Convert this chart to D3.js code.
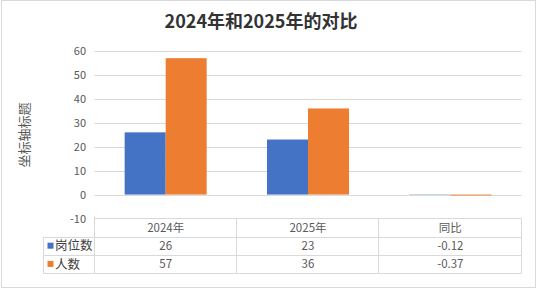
<!DOCTYPE html>
<html>
<head>
<meta charset="utf-8">
<script src="https://cdn.jsdelivr.net/npm/d3@7"></script>
<style>
	body { margin: 0; background: #fff; }
	text { font-family: "Noto Sans CJK SC", "Noto Sans", sans-serif; }
</style>
</head>
<body>
<div id="chart"></div>
<script>
// data
const categories = ["2024年", "2025年", "同比"];
const seriesNames = ["岗位数", "人数"];
const jobs = [26, 23, -0.12];
const people = [57, 36, -0.37];
const yTicks = [-10, 0, 10, 20, 30, 40, 50, 60];
const colors = ["#4472c4", "#ed7d31"];

const width = 537, height = 289;
const plot = {left: 94.5, right: 521.5, top: 51, bottom: 218.5};
const rowH = 18.2;

const svg = d3.select("#chart").append("svg")
	.attr("width", width)
	.attr("height", height);

// chart border
svg.append("rect")
	.attr("x", 1.5).attr("y", 0.5)
	.attr("width", 534).attr("height", 287)
	.attr("fill", "#fff")
	.attr("stroke", "#d9d9d9");

svg.append("text")
	.attr("x", 261).attr("y", 28)
	.attr("text-anchor", "middle")
	.attr("font-size", 18)
	.attr("font-weight", "bold")
	.attr("fill", "#333")
	.text("2024年和2025年的对比");

const x = d3.scaleBand().domain(categories).range([plot.left, plot.right]);
const bw = x.bandwidth();
const x1 = d3.scaleBand().domain(seriesNames).range([bw / 2 - 41, bw / 2 + 41]);
const y = d3.scaleLinear().domain([-10, 60]).range([plot.bottom, plot.top]);

// gridlines
svg.append("g").selectAll("line")
	.data(yTicks.filter(d => d > -10))
	.join("line")
	.attr("x1", plot.left).attr("x2", plot.right)
	.attr("y1", d => Math.round(y(d)) + 0.5)
	.attr("y2", d => Math.round(y(d)) + 0.5)
	.attr("stroke", "#d9d9d9");

// tick labels
svg.append("g").selectAll("text")
	.data(yTicks)
	.join("text")
	.attr("x", 86)
	.attr("y", d => y(d) + 4)
	.attr("text-anchor", "end")
	.attr("font-size", 11)
	.attr("fill", "#595959")
	.text(d => d);

svg.append("text")
	.attr("transform", "translate(29,135) rotate(-90)")
	.attr("text-anchor", "middle")
	.attr("font-size", 13)
	.attr("fill", "#595959")
	.text("坐标轴标题");

// bars
const series = [jobs, people];
series.forEach((vals, si) => {
	svg.append("g").selectAll("rect")
		.data(vals)
		.join("rect")
		.attr("x", (d, i) => x(categories[i]) + x1(seriesNames[si]))
		.attr("width", x1.bandwidth())
		.attr("y", d => y(Math.max(0, d)))
		.attr("height", d => Math.abs(y(d) - y(0)))
		.attr("fill", colors[si]);
});

// data table
const t = svg.append("g").attr("stroke", "#d9d9d9").attr("fill", "none");
const tTop = plot.bottom, tBot = plot.bottom + rowH * 3;
t.append("line").attr("x1", plot.left).attr("x2", plot.right).attr("y1", tTop).attr("y2", tTop);
[1, 2, 3].forEach(r => {
	t.append("line").attr("x1", 43).attr("x2", plot.right)
		.attr("y1", Math.round(tTop + rowH * r) + 0.5).attr("y2", Math.round(tTop + rowH * r) + 0.5);
});
t.append("line").attr("x1", 43.5).attr("x2", 43.5).attr("y1", tTop + rowH).attr("y2", tBot);
categories.concat([null]).forEach((c, i) => {
	const xx = Math.round(plot.left + bw * i) - 0.5;
	t.append("line").attr("x1", xx).attr("x2", xx)
		.attr("y1", i == 0 ? tTop - 2 : tTop).attr("y2", tBot);
});

svg.append("g").selectAll("text")
	.data(categories)
	.join("text")
	.attr("x", d => x(d) + bw / 2)
	.attr("y", tTop + rowH / 2 + 4)
	.attr("text-anchor", "middle")
	.attr("font-size", 11.5)
	.attr("fill", "#595959")
	.text(d => d);

series.forEach((vals, si) => {
	const rowY = tTop + rowH * (si + 1);
	svg.append("rect")
		.attr("x", 47.5).attr("y", rowY + 6)
		.attr("width", 6).attr("height", 6)
		.attr("fill", colors[si]);
	svg.append("text")
		.attr("x", 55).attr("y", rowY + rowH / 2 + 4.5)
		.attr("font-size", 12.5)
		.attr("fill", "#404040")
		.text(seriesNames[si]);
	svg.append("g").selectAll("text")
		.data(vals)
		.join("text")
		.attr("x", (d, i) => x(categories[i]) + bw / 2)
		.attr("y", rowY + rowH / 2 + 4)
		.attr("text-anchor", "middle")
		.attr("font-size", 11.5)
		.attr("fill", "#595959")
		.text(d => d);
});
</script>
</body>
</html>
